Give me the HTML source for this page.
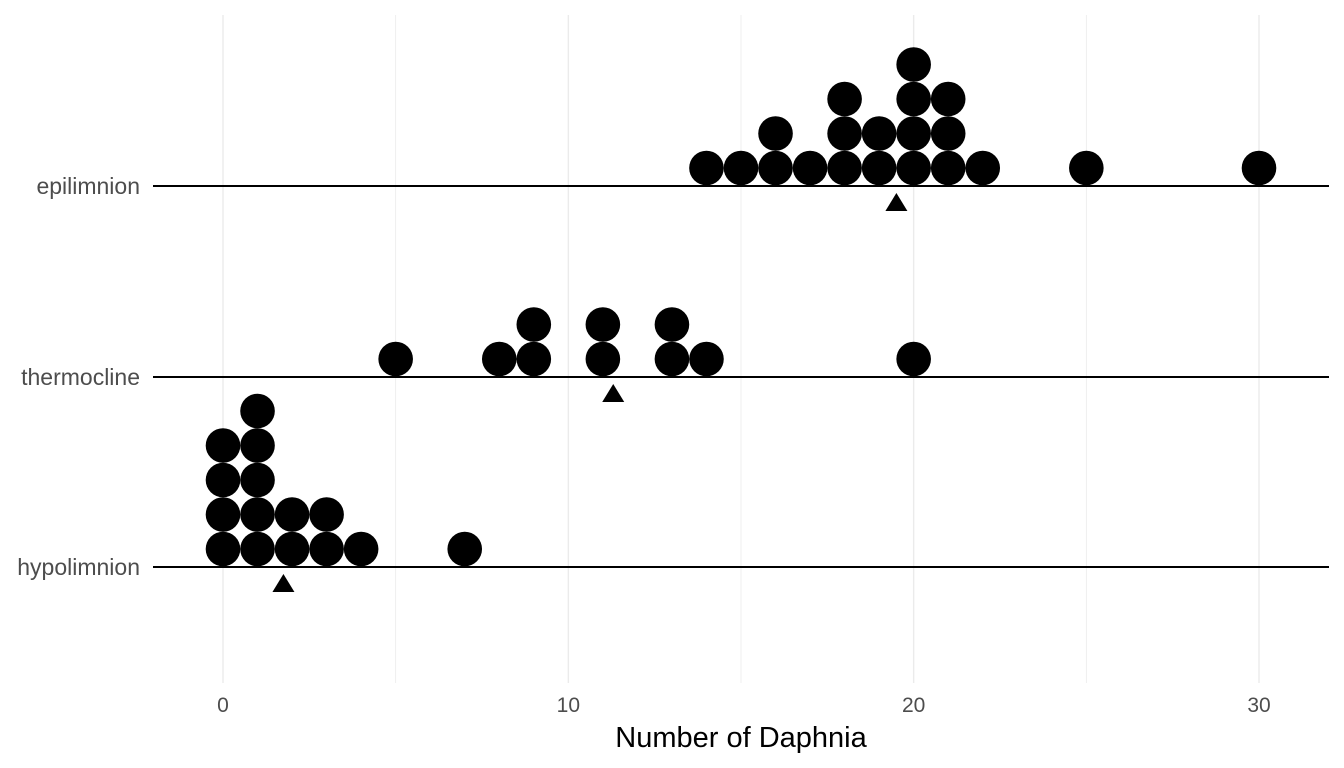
<!DOCTYPE html>
<html><head><meta charset="utf-8"><style>
body{margin:0;background:#fff}
svg{display:block;font-family:"Liberation Sans",sans-serif}
</style></head><body>
<svg id="chart" width="1344" height="768"></svg>
<script>
const categories = ["epilimnion","thermocline","hypolimnion"];
const epiValues = [14,15,16,16,17,18,18,18,19,19,20,20,20,20,21,21,21,22,25,30];
const thermoValues = [5,8,9,9,11,11,13,13,14,20];
const hypoValues = [0,0,0,0,1,1,1,1,1,2,2,3,3,4,7];
const seriesValues = [epiValues, thermoValues, hypoValues];
const means = [19.5, 11.3, 1.75];
const xTicks = [0,10,20,30];
const xMinor = [5,15,25];

const NS = "http://www.w3.org/2000/svg";
const svg = document.getElementById("chart");
const px0 = 153, px1 = 1329;
const xs = v => 223 + v * (1259 - 223) / 30;
const rowY = [186, 377, 567];
const ys = i => rowY[i];
const step = 34.5, r = 17.3;
function mk(tag, attrs, name) {
  const el = document.createElementNS(NS, tag);
  for (const k in attrs) el.setAttribute(k, attrs[k]);
  
  
  svg.appendChild(el);
  return el;
}
xMinor.concat(xTicks).forEach(t => {
  mk("line", {x1: xs(t), x2: xs(t), y1: 15, y2: 683, stroke: "#ebebeb", "stroke-width": xTicks.includes(t) ? 1.4 : 0.8}, "x-gridline");
});
xTicks.forEach(t => {
  const tx = mk("text", {x: xs(t), y: 712, "text-anchor": "middle", "font-size": 21, fill: "#4d4d4d"}, "x-tick-label");
  tx.textContent = t;
});
categories.forEach((c, i) => {
  mk("line", {x1: px0, x2: px1, y1: ys(i), y2: ys(i), stroke: "#000", "stroke-width": 2}, "baseline-" + c);
  const lb = mk("text", {x: 140, y: ys(i) + 8, "text-anchor": "end", "font-size": 23, fill: "#4d4d4d"}, "y-label-" + c);
  lb.textContent = c;
  const counts = {};
  seriesValues[i].forEach(v => {
    counts[v] = (counts[v] || 0) + 1;
    const k = counts[v] - 1;
    mk("circle", {cx: xs(v), cy: ys(i) - 18 - k * step, r: r, fill: "#000"}, "dot-" + c);
  });
  const mx = xs(means[i]), my = ys(i);
  mk("polygon", {points: `${mx},${my + 7} ${mx - 11},${my + 25} ${mx + 11},${my + 25}`, fill: "#000"}, "mean-marker-" + c);
});
const title = mk("text", {x: 741, y: 747, "text-anchor": "middle", "font-size": 29, fill: "#000"}, "x-axis-title");
title.textContent = "Number of Daphnia";
</script>
</body></html>
